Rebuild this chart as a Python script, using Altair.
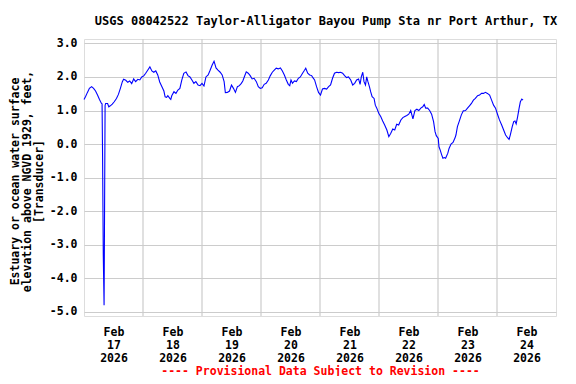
import altair as alt
import pandas as pd

# Hours since 2026-02-17 00:00 (local) and gage height readings (feet)
hours = [0.0, 0.6, 1.4, 2.2, 3.1, 3.9, 4.7, 5.5, 6.3, 7.1, 7.35, 7.56, 7.84, 8.17, 8.58,
         8.8, 9.6, 10.1, 10.7, 11.5, 12.3, 13.2, 14.0, 14.8, 15.6, 16.1, 17.0, 17.8, 18.6,
         19.4, 20.2, 21.0, 21.9, 22.7, 23.5, 24.3, 25.1, 25.9, 26.8, 27.6, 28.4, 29.2, 30.0,
         30.8, 31.7, 32.5, 33.0, 33.6, 34.1, 34.9, 35.3, 35.7, 36.6, 37.4, 38.2, 39.0, 39.8,
         40.6, 41.5, 42.3, 43.1, 43.9, 44.7, 45.5, 46.4, 47.2, 48.0, 48.8, 49.6, 50.5, 51.3,
         52.1, 52.9, 53.7, 54.5, 55.4, 56.2, 57.0, 57.5, 58.3, 59.2, 60.0, 60.8, 61.6, 62.4,
         63.2, 64.0, 64.6, 65.2, 66.0, 66.8, 67.6, 68.4, 69.2, 70.1, 70.9, 71.7, 72.5, 73.3,
         74.1, 75.0, 75.8, 76.6, 77.4, 78.2, 79.0, 79.9, 80.7, 81.5, 82.3, 83.1, 83.7, 84.2,
         84.8, 85.6, 86.4, 87.2, 88.0, 88.9, 89.7, 90.2, 91.0, 91.8, 92.6, 92.9, 93.8, 94.6,
         95.4, 96.2, 97.0, 97.8, 98.7, 99.5, 100.3, 101.1, 101.9, 102.7, 103.6, 104.4, 105.2,
         106.0, 106.8, 107.6, 108.5, 109.3, 110.1, 110.9, 111.7, 112.3, 112.8, 113.4, 113.9,
         114.5, 115.0, 115.5, 116.1, 116.6, 117.2, 118.0, 118.5, 119.1, 119.9, 120.7, 121.5,
         122.3, 123.2, 124.0, 124.8, 125.6, 126.4, 127.2, 128.0, 128.9, 129.7, 130.5, 131.3,
         132.1, 132.9, 133.8, 134.6, 135.4, 136.2, 137.0, 137.8, 138.4, 139.0, 139.8, 140.6,
         141.4, 142.2, 142.8, 143.3, 144.1, 144.4, 144.9, 145.5, 146.0, 146.6, 147.1, 148.0,
         148.5, 149.3, 150.1, 150.9, 151.3, 151.9, 152.7, 153.5, 154.3, 155.2, 156.0, 156.8,
         157.6, 158.4, 159.2, 160.1, 160.9, 161.7, 162.5, 163.3, 164.1, 165.0, 165.8, 166.6,
         167.4, 168.2, 169.0, 169.9, 170.7, 171.5, 172.3, 172.9, 173.4, 174.2, 174.8, 175.3,
         175.8, 176.4, 177.0, 177.5, 178.1, 178.6]
values = [1.33, 1.41, 1.54, 1.66, 1.71, 1.66, 1.58, 1.46, 1.33, 1.21, 1.2, -0.4, -3.3, -4.8, 1.15,
          1.21, 1.21, 1.11, 1.14, 1.19, 1.26, 1.36, 1.48, 1.66, 1.86, 1.93, 1.9, 1.84, 1.88,
          1.8, 1.94, 1.86, 1.93, 1.91, 2.0, 2.03, 2.11, 2.2, 2.3, 2.18, 2.14, 2.18, 2.06,
          1.85, 1.71, 1.58, 1.41, 1.39, 1.44, 1.36, 1.33, 1.44, 1.56, 1.51, 1.61, 1.66, 1.91,
          2.11, 2.15, 2.04, 2.0, 1.91, 1.81, 1.86, 1.76, 1.74, 1.81, 1.73, 2.0, 2.06, 2.2,
          2.35, 2.47, 2.27, 2.2, 2.14, 2.06, 1.86, 1.53, 1.54, 1.58, 1.76, 1.66, 1.54, 1.71,
          1.74, 1.81, 1.88, 2.0, 2.15, 2.11, 2.04, 1.94, 1.96, 1.86, 1.71, 1.66, 1.68, 1.78,
          1.81, 1.91, 2.04, 2.14, 2.2, 2.26, 2.24, 2.27, 2.18, 2.06, 1.91, 1.78, 1.74, 1.91,
          1.81, 1.88, 1.86, 1.96, 2.0, 2.11, 2.2, 2.26, 2.11, 2.06, 2.04, 2.0, 1.91, 1.71,
          1.54, 1.46, 1.64, 1.66, 1.64, 1.71, 1.76, 1.96, 2.11, 2.14, 2.13, 2.14, 2.11,
          2.04, 1.98, 2.0, 1.91, 1.76, 1.81, 1.91, 1.94, 1.78, 2.0, 2.14, 1.86,
          1.76, 2.0, 1.86, 1.71, 1.56, 1.41, 1.36, 1.16, 1.07, 0.92, 0.82, 0.69,
          0.57, 0.42, 0.22, 0.32, 0.45, 0.42, 0.59, 0.57, 0.72, 0.79, 0.82, 0.85,
          0.89, 1.0, 0.75, 1.0, 1.04, 1.0, 1.07, 1.11, 1.18, 1.07, 1.07, 1.0,
          0.89, 0.67, 0.37, 0.25, 0.17, -0.08, -0.18, -0.32, -0.42, -0.4, -0.42, -0.27,
          -0.13, 0.0, 0.05, 0.18, 0.27, 0.52, 0.69, 0.87, 0.99, 1.0, 1.07, 1.14,
          1.21, 1.31, 1.36, 1.44, 1.46, 1.51, 1.51, 1.54, 1.51, 1.46, 1.31, 1.16,
          1.07, 0.89, 0.72, 0.57, 0.42, 0.27, 0.19, 0.14, 0.27, 0.52, 0.67, 0.69,
          0.6, 0.82, 1.07, 1.26, 1.34, 1.31]

midnights = ["2026-02-18T00:00:00", "2026-02-19T00:00:00", "2026-02-20T00:00:00",
             "2026-02-21T00:00:00", "2026-02-22T00:00:00", "2026-02-23T00:00:00",
             "2026-02-24T00:00:00"]
label_days = [17, 18, 19, 20, 21, 22, 23, 24]

title_text = "USGS 08042522 Taylor-Alligator Bayou Pump Sta nr Port Arthur, TX"
y_title = ["Estuary or ocean water surface", "elevation above NGVD 1929, feet,", "[Transducer]"]
note = "---- Provisional Data Subject to Revision ----"

base_t = pd.Timestamp("2026-02-17 00:00:00")
times = [(base_t + pd.Timedelta(hours=h)).strftime("%Y-%m-%dT%H:%M:%S") for h in hours]
df = pd.DataFrame({"t": times, "v": values})
grid_df = pd.DataFrame({"t": midnights})

FONT = "DejaVu Sans Mono"

xscale = alt.Scale(domain=[alt.DateTime(year=2026, month=2, date=17, hours=0),
                           alt.DateTime(year=2026, month=2, date=25, hours=0)])
yscale = alt.Scale(domain=[-5.12, 3.13], nice=False, zero=False)

xaxis = alt.Axis(
    values=[alt.DateTime(year=2026, month=2, date=d, hours=12) for d in label_days],
    labelExpr="[timeFormat(datum.value, '%b'), timeFormat(datum.value, '%d'), timeFormat(datum.value, '%Y')]",
    grid=False, ticks=False, domain=False,
    labelFont=FONT, labelFontSize=11.5, labelFontWeight="bold", labelColor="black",
    labelLineHeight=13, labelPadding=10, labelAngle=0,
    title=note, titleColor="#ff0000", titleFont=FONT, titleFontSize=11.5,
    titleFontWeight="bold", titleY=55, titleBaseline="middle",
)
yaxis = alt.Axis(
    values=[-5, -4, -3, -2, -1, 0, 1, 2, 3],
    labelExpr="(datum.value < 0 ? '-' : '') + format(abs(datum.value), '.1f')",
    grid=True, gridColor="#cccccc", gridWidth=1.2, ticks=False, domain=False,
    labelFont=FONT, labelFontSize=11.5, labelFontWeight="bold", labelColor="black",
    labelPadding=7,
    title=y_title, titleFont=FONT, titleFontSize=11.5, titleFontWeight="bold",
    titleColor="black", titleLineHeight=12, titleX=-75, titleY=142, titleBaseline="top",
    titleAngle=270,
)

grid = alt.Chart(grid_df).mark_rule(color="#cccccc", strokeWidth=1.2).encode(
    x=alt.X("t:T", scale=xscale, axis=xaxis)
)
line = alt.Chart(df).mark_line(color="#0000ff", strokeWidth=1.1, interpolate="linear").encode(
    x=alt.X("t:T", scale=xscale, axis=xaxis),
    y=alt.Y("v:Q", scale=yscale, axis=yaxis),
)

chart = alt.layer(grid, line).properties(
    width=472, height=277,
    padding={"left": 76, "top": 31, "right": 12, "bottom": 60},
    autosize="none",
    title=alt.TitleParams(text=title_text, font=FONT, fontSize=12, fontWeight="bold",
                          anchor="middle", offset=0, dx=6, baseline="alphabetic",
                          color="black"),
).configure_view(stroke="black", strokeWidth=2).configure(background="white")

chart.save("out.html", embed_options={"renderer": "svg", "actions": False})
